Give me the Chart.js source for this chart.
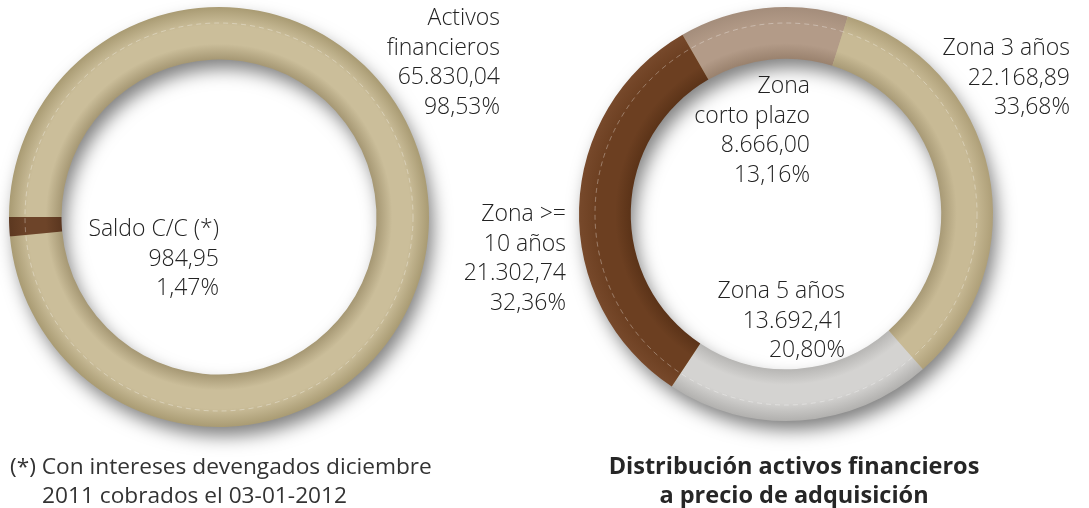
<!DOCTYPE html>
<html>
<head>
<meta charset="utf-8">
<script src="https://cdn.jsdelivr.net/npm/chart.js@4.4.1/dist/chart.umd.min.js"></script>
<style>
  html, body { margin: 0; padding: 0; background: #ffffff; }
  #wrap { position: relative; width: 1089px; height: 508px; overflow: hidden; }
  canvas { position: absolute; left: 0; top: 0; }
  .lbl { position: absolute; text-align: right; white-space: nowrap;
         font-family: "Open Sans", sans-serif; font-weight: 300; font-size: 23px;
         line-height: 29.5px; color: #222222; }
  .note { position: absolute; white-space: nowrap; font-family: "Open Sans", sans-serif;
          font-size: 22.7px; line-height: 29px; color: #333333; }
  .title { position: absolute; white-space: nowrap; text-align: center; font-family: "Open Sans", sans-serif;
           font-weight: bold; font-size: 23.5px; line-height: 29px; color: #262626; }
</style>
</head>
<body>
<div id="wrap">
  <canvas id="leftChart" width="1089" height="508"></canvas>
  <canvas id="rightChart" width="1089" height="508"></canvas>
</div>
<script>
// ---- data ----
const leftCategories = [["Activos", "financieros"], ["Saldo C/C (*)"]];
const leftValues = [65830.04, 984.95];
const leftPercents = [98.53, 1.47];

const rightCategories = [["Zona", "corto plazo"], ["Zona 3 años"], ["Zona 5 años"], ["Zona >=", "10 años"]];
const rightValues = [8666.00, 22168.89, 13692.41, 21302.74];
const rightPercents = [13.16, 33.68, 20.80, 32.36];

const footnoteLines = ["(*) Con intereses devengados diciembre", "2011 cobrados el 03-01-2012"];
const titleLines = ["Distribución activos financieros", "a precio de adquisición"];

// ---- styles ----
// each: [inner edge, middle, outer edge]
const leftShades = [
  ["#a69874", "#cbbe9a", "#a99b73"],
  ["#5a361f", "#6d4429", "#5c3820"]
];
const rightShades = [
  ["#9a826e", "#b39b88", "#a48d7b"],
  ["#a89a76", "#c8ba95", "#ae9f78"],
  ["#b7b6b4", "#d4d3d1", "#b1b0ae"],
  ["#5b3318", "#6c3f21", "#77492b"]
];

function fmtNum(v) {
  const parts = v.toFixed(2).split(".");
  return parts[0].replace(/\B(?=(\d{3})+(?!\d))/g, ".") + "," + parts[1];
}
function fmtPct(p) { return p.toFixed(2).replace(".", ",") + "%"; }

function ringGradient(shades) {
  return function (c) {
    const chart = c.chart;
    const area = chart.chartArea;
    const s = shades[c.dataIndex % shades.length];
    if (!area) return s[1];
    const cx = (area.left + area.right) / 2;
    const cy = (area.top + area.bottom) / 2;
    const outer = Math.min(area.width, area.height) / 2;
    const inner = outer * 0.75;
    const g = chart.ctx.createRadialGradient(cx, cy, inner, cx, cy, outer);
    g.addColorStop(0, s[0]);
    g.addColorStop(0.3, s[1]);
    g.addColorStop(0.65, s[1]);
    g.addColorStop(1, s[2]);
    return g;
  };
}

const ringDecor = {
  id: "ringDecor",
  beforeDatasetsDraw(chart) {
    const arc = chart.getDatasetMeta(0).data[0];
    if (!arc) return;
    const { x, y, innerRadius, outerRadius } = arc.getProps(["x", "y", "innerRadius", "outerRadius"], true);
    const ctx = chart.ctx;
    ctx.save();
    ctx.shadowColor = "rgba(0,0,0,0.5)";
    ctx.shadowBlur = 18;
    ctx.shadowOffsetX = 5;
    ctx.shadowOffsetY = 10;
    ctx.beginPath();
    ctx.arc(x, y, outerRadius - 1, 0, Math.PI * 2);
    ctx.arc(x, y, innerRadius + 1, Math.PI * 2, 0, true);
    ctx.closePath();
    ctx.fillStyle = "#c0b391";
    ctx.fill("evenodd");
    ctx.restore();
  },
  afterDatasetsDraw(chart) {
    const arc = chart.getDatasetMeta(0).data[0];
    if (!arc) return;
    const { x, y, outerRadius } = arc.getProps(["x", "y", "outerRadius"], true);
    const ctx = chart.ctx;
    ctx.save();
    ctx.strokeStyle = "rgba(255,255,255,0.4)";
    ctx.lineWidth = 0.8;
    ctx.setLineDash([5, 4]);
    ctx.beginPath();
    ctx.arc(x, y, outerRadius - 16, 0, Math.PI * 2);
    ctx.stroke();
    ctx.restore();
  }
};

function makeDonut(id, values, shades, rotation, padding) {
  return new Chart(document.getElementById(id), {
    type: "doughnut",
    data: {
      labels: values.map((v, i) => i),
      datasets: [{
        data: values,
        backgroundColor: ringGradient(shades),
        borderWidth: 0,
        hoverOffset: 0
      }]
    },
    options: {
      responsive: false,
      animation: false,
      events: [],
      cutout: "75%",
      rotation: rotation,
      layout: { padding: padding },
      plugins: { legend: { display: false }, tooltip: { enabled: false } }
    },
    plugins: [ringDecor]
  });
}

makeDonut("leftChart", leftValues, leftShades, 270, { left: 9, top: 7, right: 660, bottom: 81 });
makeDonut("rightChart", rightValues, rightShades, -30, { left: 579, top: 7, right: 96, bottom: 87 });

// ---- text labels ----
const wrap = document.getElementById("wrap");
const LH = 29.5;
function addLabel(lines, rightX, firstCenterY) {
  const d = document.createElement("div");
  d.className = "lbl";
  d.style.right = (1089 - rightX) + "px";
  d.style.top = (firstCenterY - LH / 2) + "px";
  d.innerHTML = lines.map(t => t.replace(/&/g, "&amp;").replace(/</g, "&lt;").replace(/>/g, "&gt;")).join("<br>");
  wrap.appendChild(d);
}
const leftLabelPos = [[500, 17], [219, 228]];
leftCategories.forEach((cat, i) => {
  addLabel(cat.concat([fmtNum(leftValues[i]), fmtPct(leftPercents[i])]), leftLabelPos[i][0], leftLabelPos[i][1]);
});
const rightLabelPos = [[810, 85], [1070, 47], [845, 290], [566, 213]];
rightCategories.forEach((cat, i) => {
  addLabel(cat.concat([fmtNum(rightValues[i]), fmtPct(rightPercents[i])]), rightLabelPos[i][0], rightLabelPos[i][1]);
});

const n1 = document.createElement("div");
n1.className = "note"; n1.style.left = "10px"; n1.style.top = (465 - 14.5) + "px";
n1.textContent = footnoteLines[0]; wrap.appendChild(n1);
const n2 = document.createElement("div");
n2.className = "note"; n2.style.left = "42px"; n2.style.top = (494 - 14.5) + "px";
n2.textContent = footnoteLines[1]; wrap.appendChild(n2);

titleLines.forEach((t, i) => {
  const d = document.createElement("div");
  d.className = "title";
  d.style.left = (794 - 250) + "px";
  d.style.width = "500px";
  d.style.top = (465 + i * 29 - 14.5) + "px";
  d.textContent = t;
  wrap.appendChild(d);
});
</script>
</body>
</html>
